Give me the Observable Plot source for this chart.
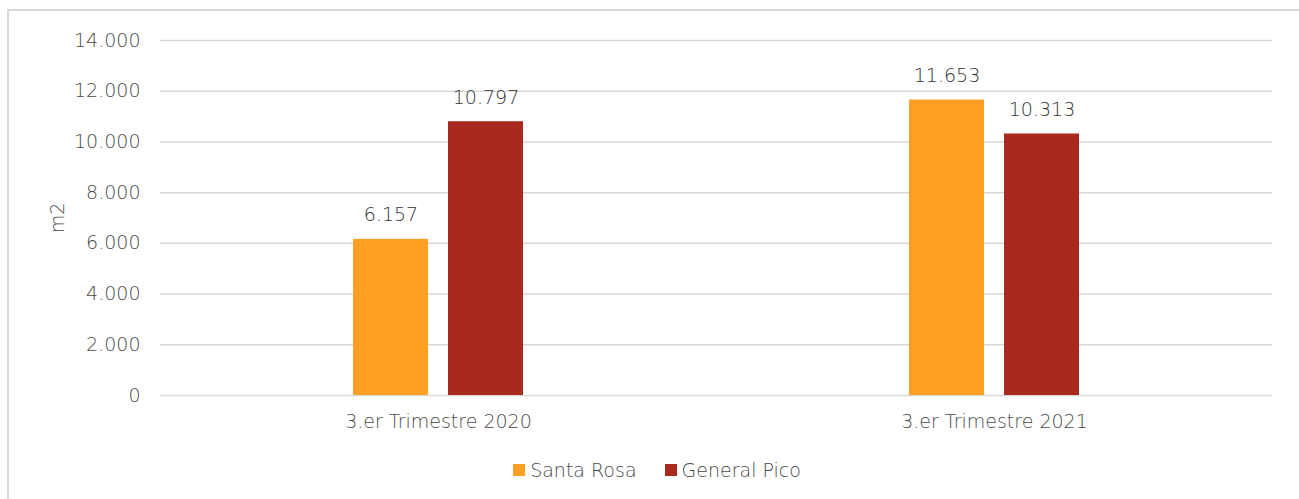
<!DOCTYPE html>
<html>
<head>
<meta charset="utf-8">
<script src="https://cdn.jsdelivr.net/npm/d3@7"></script>
<script src="https://cdn.jsdelivr.net/npm/@observablehq/plot@0.6"></script>
<style>
  html, body { margin: 0; padding: 0; background: #fff; }
  body { width: 1299px; height: 499px; position: relative; overflow: hidden; font-family: "DejaVu Sans", sans-serif; font-weight: 300; }
  #frame { position: absolute; left: 7px; top: 9px; width: 1400px; height: 600px; border: 2px solid #d9d9d9; box-sizing: border-box; }
  #chart { position: absolute; left: 0; top: 0; }
  #legend { position: absolute; left: 0; top: 458px; width: 1314px; display: flex; justify-content: center; gap: 28px; font-size: 19px; color: #4a4a4a; line-height: 24px; }
  #legend .item { display: flex; align-items: center; }
  #legend .sw { width: 12px; height: 12px; margin-right: 5px; }
</style>
</head>
<body>
<div id="frame"></div>
<div id="chart"></div>
<div id="legend"></div>
<script>
const categories = ["3.er Trimestre 2020", "3.er Trimestre 2021"];
const seriesNames = ["Santa Rosa", "General Pico"];
const santaRosa = [6157, 11653];
const generalPico = [10797, 10313];
const yTicks = [0, 2000, 4000, 6000, 8000, 10000, 12000, 14000];
const colors = ["#ffa024", "#a8291e"];

const locale = d3.formatLocale({decimal: ",", thousands: ".", grouping: [3], currency: ["$", ""]});
const fmt = locale.format(",d");

const data = [];
categories.forEach((c, i) => {
  data.push({cat: c, series: seriesNames[0], value: santaRosa[i]});
  data.push({cat: c, series: seriesNames[1], value: generalPico[i]});
});

const axisColor = "#4a4a4a";
const labelColor = "#333333";
const fs = 19;
const chart = Plot.plot({
  width: 1299,
  height: 450,
  marginLeft: 160,
  marginRight: 27,
  marginTop: 40,
  marginBottom: 55,
  style: {background: "transparent", fontFamily: "DejaVu Sans, sans-serif", fontWeight: 300, fontSize: fs + "px", color: axisColor},
  fx: {domain: categories, padding: 0},
  x: {domain: seriesNames, paddingInner: 0.208, paddingOuter: 2.0, axis: null},
  y: {domain: [0, 14000]},
  color: {domain: seriesNames, range: colors},
  marks: [
    Plot.gridY(yTicks, {stroke: "#d9d9d9", strokeOpacity: 1, strokeWidth: 1.5}),
    Plot.barY(data, {fx: "cat", x: "series", y: "value", fill: "series"}),
    Plot.text(data, {fx: "cat", x: "series", y: "value", text: d => fmt(d.value), dy: -24, lineAnchor: "middle", fill: labelColor, fontSize: fs}),
    Plot.axisY(yTicks, {tickSize: 0, tickPadding: 20, tickFormat: fmt, fill: axisColor, fontSize: fs,
      label: "m2", labelAnchor: "center", labelArrow: "none", labelOffset: 110}),
    Plot.axisFx({anchor: "bottom", tickSize: 0, tickPadding: 19, label: null, fill: axisColor, fontSize: fs})
  ]
});
document.getElementById("chart").appendChild(chart);

const legend = document.getElementById("legend");
seriesNames.forEach((s, i) => {
  const item = document.createElement("div");
  item.className = "item";
  const sw = document.createElement("div");
  sw.className = "sw";
  sw.style.background = colors[i];
  const t = document.createElement("span");
  t.textContent = s;
  item.appendChild(sw);
  item.appendChild(t);
  legend.appendChild(item);
});
</script>
</body>
</html>
